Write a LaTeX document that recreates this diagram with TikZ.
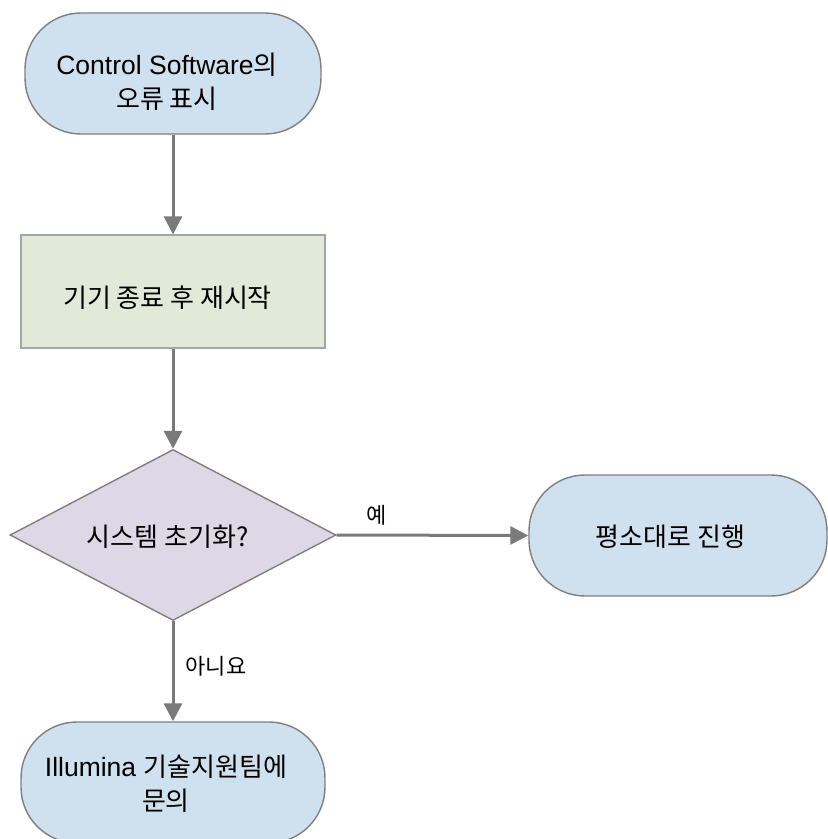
\documentclass[tikz,border=0pt]{standalone}
\usepackage{fontspec}
\setmainfont{Liberation Sans}
\newfontfamily\kr{Noto Sans CJK KR}
\usetikzlibrary{shapes.geometric,arrows.meta}
\definecolor{termblue}{HTML}{CFE0EF}
\definecolor{procgreen}{HTML}{E1E9D8}
\definecolor{decpurple}{HTML}{DDD7E6}
\definecolor{edgegray}{HTML}{7F7F7F}
\definecolor{linegray}{HTML}{7A7A7A}
\newcommand{\krt}[1]{{\fontsize{26}{34}\selectfont\kr #1}}
\tikzset{
  terminal/.style={draw=edgegray, line width=1.4pt, fill=termblue, rectangle,
    rounded corners=56pt, minimum width=296pt, minimum height=121pt,
    inner sep=0pt},
  process/.style={draw=edgegray!70, line width=1.2pt, fill=procgreen, rectangle,
    minimum width=304pt, minimum height=113pt, inner sep=0pt},
  decision/.style={draw=edgegray, line width=1.4pt, fill=decpurple, diamond,
    minimum width=326pt, minimum height=171pt, inner sep=0pt},
  txt/.style={inner sep=0pt, align=center, font=\fontsize{26.5}{34}\selectfont},
  flow/.style={draw=linegray, line width=3pt,
    -{Triangle[length=18pt,width=18pt]}},
  lbl/.style={font=\fontsize{22}{26}\selectfont\kr, inner sep=0pt}
}
\begin{document}
\begin{tikzpicture}[x=1pt,y=-1pt]
\useasboundingbox (0,0) rectangle (828,839);
\begin{scope}
\clip (0,0) rectangle (828,839);
\node[terminal] (start) at (173,73.5) {};
\node[process] (restart) at (173,291.5) {};
\node[decision] (dec) at (173,535) {};
\node[terminal, minimum width=298pt] (ok) at (678,535.5) {};
\node[terminal, minimum width=304pt] (support) at (173,782.5) {};
\node[txt] (starttxt) at (167,82) {Control Software\krt{의}\\\krt{오류 표시}};
\node[txt] (restarttxt) at (167.5,297.5) {\krt{기기 종료 후 재시작}};
\node[txt] (dectxt) at (167.5,536.5) {\krt{시스템 초기화?}};
\node[txt] (oktxt) at (670.5,537) {\krt{평소대로 진행}};
\node[txt] (supporttxt) at (166,784) {Illumina \krt{기술지원팀에}\\\krt{문의}};
\draw[flow] (start.south) -- (restart.north);
\draw[flow] (restart.south) -- (dec.north);
\draw[flow] (dec.east) -- (ok.west);
\draw[flow] (dec.south) -- (support.north);
\node[lbl] (yes) at (377,515) {예};
\node[lbl] (no) at (216,666) {아니요};
\end{scope}
\end{tikzpicture}
\end{document}
